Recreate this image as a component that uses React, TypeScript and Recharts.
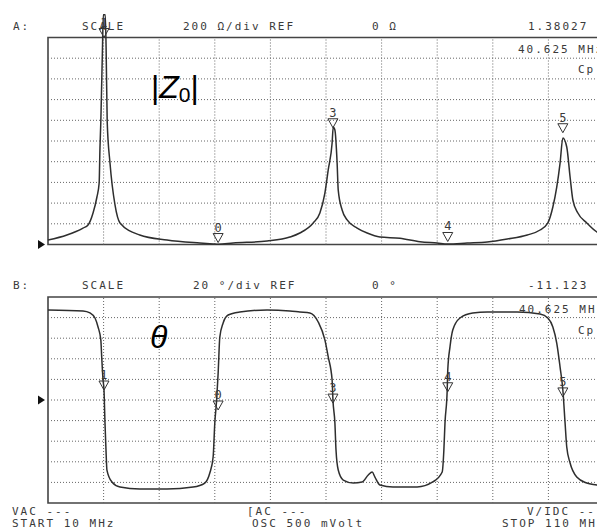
import React from 'react';
import { ComposedChart, Line, XAxis, YAxis, ReferenceLine, ReferenceArea, ReferenceDot } from 'recharts';

// |Z| trace (MHz, ohm)
const zFreq = [10, 13.4, 16.3, 17.2, 18.1, 18.8, 19.2, 19.35, 19.5, 19.8, 19.95, 20.3, 20.45, 20.65, 21.15, 22.05, 22.95, 26.5, 31.4, 37.3, 39.7, 40.6, 43.3, 49.4, 53.5, 55.3, 57.7, 58.9, 59.8, 60.4, 61.1, 61.3, 61.6, 62.0, 62.2, 62.9, 63.8, 65.6, 67.4, 69.7, 73.3, 76.9, 80, 81.9, 85.4, 89, 92.6, 96.2, 98.5, 99.9, 100.8, 101.5, 102.1, 102.6, 103.3, 103.9, 104.4, 105.3, 106.9, 108.7, 110];
const zOhm = [43, 92, 159, 188, 304, 459, 594, 942, 1183, 1900, 2220, 2220, 1900, 1183, 787, 382, 208, 92, 43, 14, 5, 2, 14, 34, 72, 111, 208, 304, 497, 720, 981, 1135, 1106, 787, 526, 333, 237, 159, 111, 72, 60, 26, 14, 5, 14, 24, 53, 92, 140, 208, 362, 555, 787, 1029, 942, 652, 430, 304, 208, 121, 95];

// phase trace (MHz, degrees)
const phFreq = [10, 16.3, 17.55, 18.45, 19.0, 19.5, 19.66, 19.9, 20.07, 20.25, 20.43, 20.6, 21.5, 22.95, 26.5, 31.4, 36.1, 38.2, 39.1, 39.7, 40.0, 40.33, 40.6, 40.9, 41.5, 42.4, 44.5, 49.4, 53.5, 55.3, 57.1, 58.6, 59.8, 60.4, 61.1, 61.25, 61.6, 61.8, 62.2, 63.1, 64.9, 66.5, 67.6, 68.3, 68.8, 69.7, 72.05, 76.4, 79.2, 80.9, 81.2, 81.4, 81.8, 81.9, 82.3, 82.8, 84.1, 86.4, 89.0, 94.4, 98.5, 99.9, 100.8, 101.5, 102.1, 102.6, 103.0, 103.3, 103.9, 105.1, 106.9, 108.7, 110];
const phDeg = [87.4, 86.4, 84.5, 79.6, 70.9, 58.3, 41.8, 19.4, 9.7, -22.3, -48.6, -68, -79.6, -84.5, -86.4, -86.4, -84.5, -80.6, -70.9, -55.3, -22.3, 0, 26, 61, 74.8, 82.5, 85.4, 87.4, 86.4, 85.4, 84.5, 75.7, 58.3, 41.8, 19.4, 0, -22.3, -48.6, -68, -77.7, -80.6, -79.6, -72.8, -69.9, -74.8, -82.5, -84.5, -84.5, -79.6, -69.9, -48.6, -22.3, 9.7, 29.1, 51.5, 68, 79.6, 84.5, 85.4, 85.4, 83.5, 79.6, 70.9, 55.3, 32, 9.7, -22.3, -45.6, -61.2, -74.8, -80.6, -82.5, -84];

// markers
const markerLabels = ['1', '0', '3', '4', '5'];
const markerFreq = [20.07, 40.6, 61.25, 81.9, 102.6];
const zMarkerOhm = [2000, 19, 1128, 29, 1080];
const phMarkerDeg = [9.7, -9.7, -3, 8, 3];

// axes / grid
const xTicks = [10, 20, 30, 40, 50, 60, 70, 80, 90, 100, 110];
const zTicks = [0, 200, 400, 600, 800, 1000, 1200, 1400, 1600, 1800, 2000];
const phTicks = [-100, -80, -60, -40, -20, 0, 20, 40, 60, 80, 100];

// texts
const headerA = ['A:', 'SCALE', '200 Ω/div REF', '0 Ω', '1.38027 kΩ'];
const headerB = ['B:', 'SCALE', '20 °/div REF', '0 °', '-11.123 °'];
const markerInfo = ['40.625 MHz', 'Cp'];
const footer = ['VAC ---', 'START 10 MHz', '[AC ---', 'OSC 500 mVolt', 'V/IDC ---', 'STOP 110 MHz'];

const zData = zFreq.map((f, i) => ({ f, v: zOhm[i] }));
const phData = phFreq.map((f, i) => ({ f, v: phDeg[i] }));

const TRACE = '#2e2e2e';
const GRID = '#666';
const FRAME = '#444';
const TXT = '#3a3a3a';
const MONO = '"DejaVu Sans Mono", "Liberation Mono", monospace';

// layout of the top chart (trace overshoots the frame)
const TOP_H = 260;
const TOP_MARGIN = { top: 10, right: 16, bottom: 15.5, left: 48 };
const FRAME_TOP = 37.5;
const zMax = 2000;
const zDomainTop =
  (zMax * (TOP_H - TOP_MARGIN.bottom - TOP_MARGIN.top)) / (TOP_H - TOP_MARGIN.bottom - FRAME_TOP);

const markerShape = (label: string) => (props: any) => {
  const { cx, cy } = props;
  return (
    <g>
      <polygon
        points={`${cx - 5},${cy - 9} ${cx + 5},${cy - 9} ${cx},${cy}`}
        fill="none"
        stroke="#333"
        strokeWidth={1}
      />
      <text x={cx} y={cy - 11} textAnchor="middle" fontFamily={MONO} fontSize={12} fill={TXT}>
        {label}
      </text>
    </g>
  );
};

const refShape = (props: any) => {
  const { cx, cy } = props;
  return <polygon points={`${cx - 10},${cy - 4.5} ${cx - 3},${cy} ${cx - 10},${cy + 4.5}`} fill="#111" />;
};

function gridLines(yTicks: number[]) {
  const y0 = yTicks[0];
  const y1 = yTicks[yTicks.length - 1];
  const x0 = xTicks[0];
  const x1 = xTicks[xTicks.length - 1];
  const out: React.ReactNode[] = [];
  xTicks.slice(1, -1).forEach((t) =>
    out.push(
      <ReferenceLine
        key={'vx' + t}
        segment={[{ x: t, y: y0 }, { x: t, y: y1 }]}
        stroke={GRID}
        strokeDasharray="1 2"
        strokeWidth={1}
      />
    )
  );
  yTicks.slice(1, -1).forEach((t) =>
    out.push(
      <ReferenceLine
        key={'hy' + t}
        segment={[{ x: x0, y: t }, { x: x1, y: t }]}
        stroke={GRID}
        strokeDasharray="1 2"
        strokeWidth={1}
      />
    )
  );
  out.push(
    <ReferenceArea
      key="frame"
      x1={x0}
      x2={x1}
      y1={y0}
      y2={y1}
      fill="none"
      fillOpacity={0}
      stroke={FRAME}
      strokeWidth={1.6}
    />
  );
  return out;
}

const T = (props: any) => (
  <text fontFamily={MONO} fontSize={11} letterSpacing={2} fill={TXT} {...props} />
);

export default function App() {
  return (
    <div
      style={{
        position: 'absolute',
        left: 0,
        top: 0,
        width: 597,
        height: 529,
        overflow: 'hidden',
        background: '#fff',
      }}
    >
      <div style={{ position: 'absolute', left: 0, top: 0 }}>
        <ComposedChart width={620} height={TOP_H} data={zData} margin={TOP_MARGIN}>
          <XAxis type="number" dataKey="f" domain={[10, 110]} ticks={xTicks} hide />
          <YAxis type="number" domain={[0, zDomainTop]} ticks={zTicks} hide />
          {gridLines(zTicks)}
          <Line
            type="monotone"
            dataKey="v"
            stroke={TRACE}
            strokeWidth={1.5}
            dot={false}
            isAnimationActive={false}
          />
          <ReferenceDot x={10} y={0} r={4} shape={refShape} />
          {markerFreq.map((f, i) => (
            <ReferenceDot key={'zm' + i} x={f} y={zMarkerOhm[i]} r={4} shape={markerShape(markerLabels[i])} />
          ))}
        </ComposedChart>
      </div>
      <div style={{ position: 'absolute', left: 0, top: 280 }}>
        <ComposedChart
          width={620}
          height={240}
          data={phData}
          margin={{ top: 17, right: 16, bottom: 17, left: 48 }}
        >
          <XAxis type="number" dataKey="f" domain={[10, 110]} ticks={xTicks} hide />
          <YAxis type="number" domain={[-100, 100]} ticks={phTicks} hide />
          {gridLines(phTicks)}
          <Line
            type="monotone"
            dataKey="v"
            stroke={TRACE}
            strokeWidth={1.5}
            dot={false}
            isAnimationActive={false}
          />
          <ReferenceDot x={10} y={0} r={4} shape={refShape} />
          {markerFreq.map((f, i) => (
            <ReferenceDot key={'pm' + i} x={f} y={phMarkerDeg[i]} r={4} shape={markerShape(markerLabels[i])} />
          ))}
        </ComposedChart>
      </div>
      <svg
        width={597}
        height={529}
        style={{ position: 'absolute', left: 0, top: 0, pointerEvents: 'none' }}
      >
        <T x={13} y={30}>{headerA[0]}</T>
        <T x={82} y={30}>{headerA[1]}</T>
        <T x={183} y={30}>{headerA[2]}</T>
        <T x={372} y={30}>{headerA[3]}</T>
        <T x={528} y={30}>{headerA[4]}</T>
        <T x={518} y={53}>{markerInfo[0]}</T>
        <T x={578} y={73}>{markerInfo[1]}</T>

        <T x={13} y={289}>{headerB[0]}</T>
        <T x={82} y={289}>{headerB[1]}</T>
        <T x={193} y={289}>{headerB[2]}</T>
        <T x={372} y={289}>{headerB[3]}</T>
        <T x={528} y={289}>{headerB[4]}</T>
        <T x={519} y={313}>{markerInfo[0]}</T>
        <T x={578} y={334}>{markerInfo[1]}</T>

        <T x={12} y={515}>{footer[0]}</T>
        <T x={12} y={527}>{footer[1]}</T>
        <T x={247} y={515}>{footer[2]}</T>
        <T x={252} y={527}>{footer[3]}</T>
        <T x={527} y={515}>{footer[4]}</T>
        <T x={502} y={527}>{footer[5]}</T>

        <text x={151} y={98} fontFamily='"Liberation Sans", Arial, sans-serif' fontSize={32} fill="#000">
          |<tspan fontStyle="italic">Z</tspan>
          <tspan fontSize={21} dy={4}>0</tspan>
          <tspan dy={-4}>|</tspan>
        </text>
        <text
          x={150}
          y={348}
          fontFamily='"Liberation Sans", Arial, sans-serif'
          fontSize={32}
          fontStyle="italic"
          fill="#000"
        >
          θ
        </text>
      </svg>
    </div>
  );
}
